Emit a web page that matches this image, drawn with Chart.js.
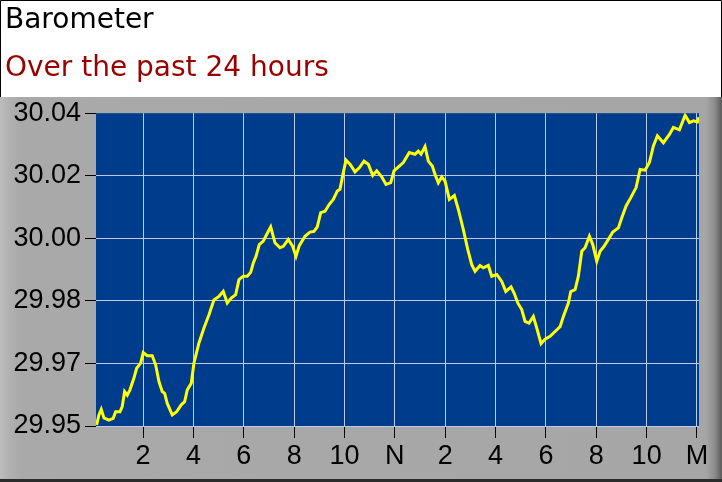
<!DOCTYPE html>
<html>
<head>
<meta charset="utf-8">
<title>Barometer</title>
<script src="https://cdn.jsdelivr.net/npm/chart.js@4.4.1/dist/chart.umd.min.js"></script>
<style>
    html, body { margin: 0; padding: 0; background: #ffffff; }
    #wrap { width: 722px; height: 482px; position: relative; }
</style>
</head>
<body>
<div id="wrap"><canvas id="baroChart"></canvas></div>
<script>
// time of each reading, hours since midnight
const hours = [
    0.155, 0.246, 0.338, 0.445, 0.644, 0.814, 0.910, 1.081, 1.172, 1.267,
    1.371, 1.478, 1.637, 1.744, 1.903, 2.006, 2.165, 2.364, 2.499, 2.630,
    2.761, 2.857, 2.960, 3.159, 3.333, 3.516, 3.651, 3.755, 3.913, 4.021,
    4.219, 4.418, 4.617, 4.815, 5.014, 5.185, 5.344, 5.503, 5.677, 5.809,
    5.980, 6.138, 6.273, 6.377,
    6.484, 6.615, 6.774, 6.909, 7.068, 7.239, 7.437, 7.569, 7.767, 7.942,
    8.073, 8.204, 8.431, 8.629, 8.788, 8.919, 9.055, 9.225, 9.396, 9.555,
    9.714, 9.821, 9.952, 10.060, 10.219, 10.417, 10.588, 10.775, 10.946, 11.121,
    11.280, 11.478, 11.649, 11.836, 11.967, 12.177, 12.336, 12.574,
    12.801, 12.932, 13.040, 13.199, 13.329, 13.488, 13.596, 13.727, 13.862, 13.993,
    14.164, 14.363, 14.522, 14.720, 14.895, 15.054, 15.185, 15.383, 15.515, 15.713,
    15.848, 16.047, 16.246, 16.405, 16.615, 16.746, 16.881, 17.040, 17.171, 17.330,
    17.501, 17.636, 17.807, 17.966, 18.165, 18.363,
    18.562, 18.693, 18.892, 18.987, 19.158, 19.289, 19.424, 19.555, 19.726, 19.861,
    20.020, 20.151, 20.310, 20.481, 20.656, 20.878, 21.013, 21.184, 21.371, 21.581,
    21.740, 21.939, 22.110, 22.269, 22.428, 22.666, 22.905, 23.064, 23.302, 23.529,
    23.700, 23.859, 24.017, 24.080
];

// barometer reading, inHg
const pressure = [
    29.9503, 29.9532, 29.9548, 29.9523, 29.9517, 29.9522, 29.9541, 29.9541, 29.9556, 29.9599,
    29.9589, 29.9604, 29.9638, 29.9666, 29.9681, 29.9711, 29.9702, 29.9702, 29.9676, 29.9628,
    29.9599, 29.9594, 29.9565, 29.9532, 29.9541, 29.9561, 29.9570, 29.9604, 29.9623, 29.9681,
    29.9739, 29.9782, 29.9820, 29.9863, 29.9873, 29.9887, 29.9854, 29.9868, 29.9878, 29.9921,
    29.9931, 29.9931, 29.9942, 29.9969,
    29.9988, 30.0022, 30.0032, 30.0051, 30.0073, 30.0027, 30.0013, 30.0017, 30.0037, 30.0017,
    29.9988, 30.0019, 30.0046, 30.0058, 30.0060, 30.0073, 30.0114, 30.0118, 30.0138, 30.0152,
    30.0176, 30.0181, 30.0229, 30.0265, 30.0253, 30.0231, 30.0243, 30.0262, 30.0253, 30.0221,
    30.0234, 30.0217, 30.0195, 30.0200, 30.0234, 30.0248, 30.0258, 30.0287,
    30.0282, 30.0291, 30.0282, 30.0304, 30.0262, 30.0248, 30.0224, 30.0200, 30.0217, 30.0205,
    30.0152, 30.0163, 30.0123, 30.0065, 30.0008, 29.9964, 29.9945, 29.9962, 29.9955, 29.9962,
    29.9931, 29.9936, 29.9916, 29.9887, 29.9900, 29.9881, 29.9854, 29.9835, 29.9801, 29.9796,
    29.9815, 29.9782, 29.9737, 29.9750, 29.9758, 29.9772,
    29.9786, 29.9815, 29.9854, 29.9887, 29.9892, 29.9931, 30.0003, 30.0013, 30.0046, 30.0022,
    29.9974, 30.0003, 30.0017, 30.0037, 30.0058, 30.0070, 30.0099, 30.0133, 30.0157, 30.0186,
    30.0238, 30.0236, 30.0258, 30.0306, 30.0335, 30.0315, 30.0339, 30.0359, 30.0352, 30.0394,
    30.0373, 30.0378, 30.0375, 30.0388
];

// x axis: every two hours
const hourTicks = [2, 4, 6, 8, 10, 12, 14, 16, 18, 20, 22, 24];
const hourLabels = ["2", "4", "6", "8", "10", "N", "2", "4", "6", "8", "10", "M"];

// y axis: six evenly spaced lines, bottom to top
const yMin = 29.95;
const yMax = 30.04;
const yTickLabels = ["29.95", "29.97", "29.98", "30.00", "30.02", "30.04"];

const GRID = "#bccbe8";
const AXIS_FONT = { family: "'Liberation Sans', Arial, sans-serif", size: 27 };
const TITLE_FONT = "'DejaVu Sans', Verdana, sans-serif";

/* panel, header box and plot background */
const panelBg = {
    id: "panelBg",
    beforeDraw(chart) {
        const c = chart.ctx;
        const w = chart.width, h = chart.height;
        const a = chart.chartArea;
        c.save();
        c.fillStyle = "#ffffff";
        c.fillRect(0, 0, w, h);

        const g = c.createLinearGradient(0, 0, w, 0);
        g.addColorStop(0, "#bdbdbd");
        g.addColorStop(0.014, "#b0b0b0");
        g.addColorStop(0.03, "#a9a9a9");
        g.addColorStop(0.978, "#a6a6a6");
        g.addColorStop(0.99, "#8c8c8c");
        g.addColorStop(1, "#5a5a5a");
        c.fillStyle = g;
        c.fillRect(0, 97, w, h - 97);

        c.fillStyle = "#2b2b2b";
        c.fillRect(0, h - 3, w, 3);

        c.strokeStyle = "#000000";
        c.lineWidth = 1;
        c.beginPath();
        c.moveTo(0.5, 97);
        c.lineTo(0.5, 0.5);
        c.lineTo(w - 0.5, 0.5);
        c.lineTo(w - 0.5, 97);
        c.stroke();

        c.fillStyle = "#003c8c";
        c.fillRect(a.left, a.top, a.right - a.left, a.bottom - a.top);
        c.restore();
    }
};

const ctx = document.getElementById("baroChart").getContext("2d");

new Chart(ctx, {
    type: "line",
    data: {
        datasets: [{
            data: hours.map((h, i) => ({ x: h, y: pressure[i] })),
            borderColor: "#ffff00",
            borderWidth: 3,
            pointRadius: 0,
            tension: 0,
            fill: false
        }]
    },
    options: {
        responsive: true,
        maintainAspectRatio: false,
        animation: false,
        events: [],
        layout: {
            padding: { left: 5, right: 23, top: 0, bottom: 0 }
        },
        plugins: {
            legend: { display: false },
            tooltip: { enabled: false },
            title: {
                display: true,
                text: "Barometer",
                align: "start",
                color: "#000000",
                font: { family: TITLE_FONT, size: 28, weight: "normal" },
                padding: { top: 4, bottom: 0 }
            },
            subtitle: {
                display: true,
                text: "Over the past 24 hours",
                align: "start",
                color: "#990000",
                font: { family: TITLE_FONT, size: 28, weight: "normal" },
                padding: { top: 14, bottom: 28 }
            }
        },
        scales: {
            x: {
                type: "linear",
                min: 0.13,
                max: 24.08,
                afterBuildTicks: s => { s.ticks = hourTicks.map(v => ({ value: v })); },
                afterFit: s => { s.height = 56; },
                border: { display: false },
                grid: {
                    color: GRID,
                    lineWidth: 1,
                    drawTicks: true,
                    tickLength: 12,
                    tickColor: "#000000"
                },
                ticks: {
                    color: "#000000",
                    font: AXIS_FONT,
                    padding: 2,
                    autoSkip: false,
                    maxRotation: 0,
                    callback: (v, i) => hourLabels[i]
                }
            },
            y: {
                min: yMin,
                max: yMax,
                afterBuildTicks: s => {
                    const step = (yMax - yMin) / (yTickLabels.length - 1);
                    s.ticks = yTickLabels.map((_, i) => ({ value: yMin + i * step }));
                },
                afterFit: s => { s.width = 91; },
                border: { display: false },
                grid: {
                    color: c => (c.index === yTickLabels.length - 1 ? "rgba(0,0,0,0)" : GRID),
                    lineWidth: 1,
                    drawTicks: true,
                    tickLength: 11,
                    tickColor: "#000000"
                },
                ticks: {
                    color: "#000000",
                    font: AXIS_FONT,
                    padding: 4,
                    callback: (v, i) => yTickLabels[i]
                }
            }
        }
    },
    plugins: [panelBg]
});
</script>
</body>
</html>
